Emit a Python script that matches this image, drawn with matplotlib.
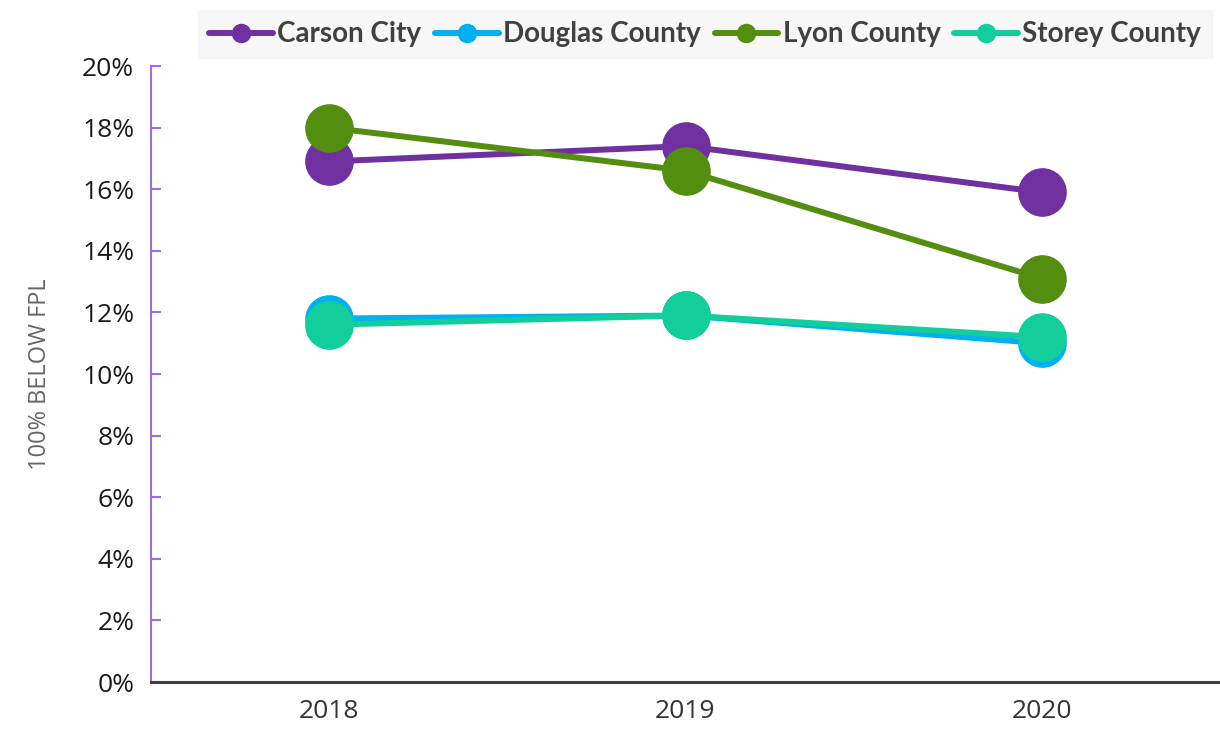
import matplotlib.pyplot as plt
from matplotlib.ticker import PercentFormatter

plt.rcParams["font.family"] = ["Open Sans", "DejaVu Sans"]

years = ["2018", "2019", "2020"]
carson = [16.9, 17.4, 15.9]
douglas = [11.8, 11.9, 11.0]
lyon = [18.0, 16.6, 13.1]
storey = [11.6, 11.9, 11.2]

series = [
    ("Carson City", carson, "#7030A0"),
    ("Douglas County", douglas, "#00B0F0"),
    ("Lyon County", lyon, "#548E10"),
    ("Storey County", storey, "#12CE9A"),
]

fig = plt.figure(figsize=(12.2, 7.38), dpi=100)
ax = fig.add_axes([151 / 1220, 1 - 682 / 738, (1220 - 151) / 1220, (682 - 66) / 738])

x = range(len(years))
handles = []
for name, vals, color in series:
    ax.plot(x, vals, color=color, lw=4.3, solid_capstyle="round",
            marker="o", markersize=34, zorder=3)
    h, = ax.plot([], [], color=color, lw=4.3, marker="o", markersize=13,
                 solid_capstyle="round", label=name)
    handles.append(h)

ax.set_xlim(-0.5, 2.5)
ax.set_ylim(0, 20)
ax.set_yticks(range(0, 21, 2))
ax.yaxis.set_major_formatter(PercentFormatter(decimals=0))
ax.set_xticks(list(x))
ax.set_xticklabels(years)

for side in ["top", "right"]:
    ax.spines[side].set_visible(False)
ax.spines["left"].set_color("#9B6BF0")
ax.spines["left"].set_linewidth(1.5)
ax.spines["bottom"].set_color("#404040")
ax.spines["bottom"].set_linewidth(2.2)

ax.tick_params(axis="y", direction="in", length=7, width=1.5, color="#9B6BF0",
               labelsize=19, labelcolor="#1a1a1a", pad=12)
ax.tick_params(axis="x", length=0, labelsize=19, labelcolor="#333333", pad=12)

ax.set_ylabel("100% BELOW FPL", fontsize=17, color="#666666",
              family=["Liberation Sans Narrow", "Open Sans"], labelpad=22)

leg = fig.legend(handles=handles, loc="upper center", ncol=4,
                 bbox_to_anchor=(705 / 1220, 1.005), frameon=True,
                 prop={"family": "Lato", "weight": "bold", "size": 20},
                 handlelength=2.3, handletextpad=0.15, columnspacing=0.5,
                 borderpad=0.4, fancybox=False)
leg.get_frame().set_facecolor("#F5F5F5")
leg.get_frame().set_edgecolor("#F5F5F5")
for t in leg.get_texts():
    t.set_color("#404040")

fig.savefig("out.png", dpi=100)
